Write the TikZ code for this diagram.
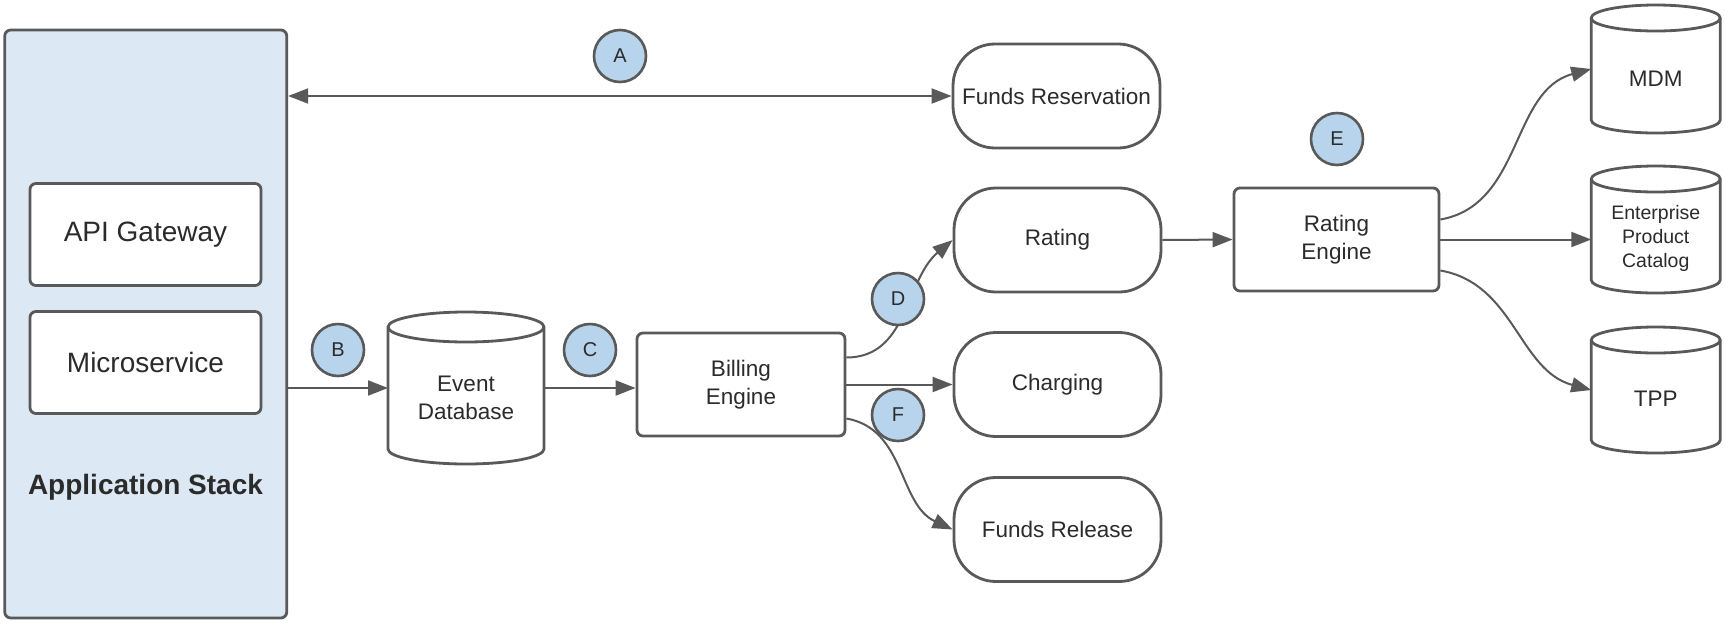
\documentclass[tikz,border=0pt]{standalone}
\usepackage{fontspec}
\setmainfont{Liberation Sans}
\usetikzlibrary{arrows.meta}
\definecolor{ln}{HTML}{595959}
\definecolor{tx}{HTML}{2B2B2B}
\definecolor{stackfill}{HTML}{DCE8F3}
\definecolor{circfill}{HTML}{B7D4EC}
\tikzset{
  box/.style={draw=ln, line width=2.8pt, rounded corners=6pt, fill=white, text=tx, align=center, inner sep=0pt},
  pill/.style={box, rounded corners=42pt, minimum width=207pt, minimum height=104pt},
  dbbox/.style={inner sep=0pt, outer sep=0pt},
  dbtext/.style={text=tx, align=center, inner sep=0pt},
  badge/.style={circle, draw=ln, line width=2.6pt, fill=circfill, minimum size=52pt, inner sep=0pt, text=tx, font=\fontsize{20}{24}\selectfont},
  conn/.style={draw=ln, line width=2pt, -{Triangle[length=20pt,width=15pt]}},
  connboth/.style={draw=ln, line width=2pt, {Triangle[length=20pt,width=15pt]}-{Triangle[length=20pt,width=15pt]}},
  fbig/.style={font=\fontsize{28}{34}\selectfont},
  fmid/.style={font=\fontsize{22.5}{28}\selectfont},
  fsmall/.style={font=\fontsize{19.5}{24}\selectfont},
}
\newcommand{\cylpath}[3]{%
  \draw[draw=ln, line width=2.8pt, fill=white] ([yshift=-#3]#1.north west) -- ([yshift=#3]#1.south west)
    arc[start angle=180, end angle=360, x radius=#2, y radius=#3]
    -- ([yshift=-#3]#1.north east)
    arc[start angle=0, end angle=180, x radius=#2, y radius=#3] -- cycle;
  \draw[draw=ln, line width=2.8pt] ([yshift=-#3]#1.north west)
    arc[start angle=180, end angle=360, x radius=#2, y radius=#3];
}
\begin{document}
\begin{tikzpicture}[x=1pt,y=-1pt]
\useasboundingbox (0,0) rectangle (1725,625);

% application stack
\node[box, fill=stackfill, minimum width=282pt, minimum height=588pt] (stack) at (145.75,324) {};
\node[box, fbig, minimum width=231pt, minimum height=102pt] (api) at (145.5,234.5) {API Gateway};
\node[box, fbig, minimum width=231pt, minimum height=102pt] (micro) at (145.5,362.5) {Microservice};
\node[text=tx, font=\bfseries\fontsize{28}{34}\selectfont, inner sep=0pt] (stacklabel) at (145.5,487) {Application Stack};

% event database
\node[dbbox, minimum width=156pt, minimum height=152pt] (eventdb) at (466,388) {};
\cylpath{eventdb}{78pt}{15pt}
\node[dbtext, fmid] (eventdbtext) at ([yshift=-10pt]eventdb.center) {Event\\Database};

% billing engine
\node[box, fmid, minimum width=208pt, minimum height=103pt] (billing) at (741,384.5) {Billing\\Engine};

% pills
\node[pill, fmid] (fres) at (1056.5,96) {Funds Reservation};
\node[pill, fmid] (rating) at (1057.5,240) {Rating};
\node[pill, fmid] (charging) at (1057.5,384.5) {Charging};
\node[pill, fmid] (frel) at (1057.5,529.5) {Funds Release};

% rating engine
\node[box, fmid, minimum width=205pt, minimum height=103pt] (re) at (1336.5,239.5) {Rating\\Engine};

% right databases
\node[dbbox, minimum width=129pt, minimum height=128pt] (mdm) at (1655.75,69) {};
\cylpath{mdm}{64.5pt}{13pt}
\node[dbtext, fmid] (mdmtext) at ([yshift=-10pt]mdm.center) {MDM};

\node[dbbox, minimum width=129pt, minimum height=127pt] (epc) at (1655.75,229.5) {};
\cylpath{epc}{64.5pt}{13pt}
\node[dbtext, fsmall] (epctext) at ([yshift=-9pt]epc.center) {Enterprise\\Product\\Catalog};

\node[dbbox, minimum width=129pt, minimum height=126pt] (tpp) at (1655.75,390) {};
\cylpath{tpp}{64.5pt}{13pt}
\node[dbtext, fmid] (tpptext) at ([yshift=-9pt]tpp.center) {TPP};

% connectors
\draw[connboth] (stack.east |- fres.west) -- (fres.west);
\draw[conn] (stack.east |- eventdb.west) -- (eventdb.west);
\draw[conn] (eventdb.east) -- (billing.west |- eventdb.east);
\draw[conn] ([yshift=27pt]billing.east) to[out=0,in=220] (rating.west);
\draw[conn] (billing.east) -- (charging.west);
\draw[conn] ([yshift=-34pt]billing.east) to[out=-10,in=155] (frel.west);
\draw[conn] (rating.east) -- (re.west);
\draw[conn] ([yshift=20pt]re.east) to[out=10,in=195] (mdm.west);
\draw[conn] (re.east) -- (epc.west |- re.east);
\draw[conn] ([yshift=-31pt]re.east) to[out=-10,in=165] (tpp.west);

% badges
\node[badge] (ba) at (620,56) {A};
\node[badge] (bb) at (338,350) {B};
\node[badge] (bc) at (590,350) {C};
\node[badge] (bd) at (898,299) {D};
\node[badge] (be) at (1337,139) {E};
\node[badge] (bf) at (898,415) {F};
\end{tikzpicture}
\end{document}
